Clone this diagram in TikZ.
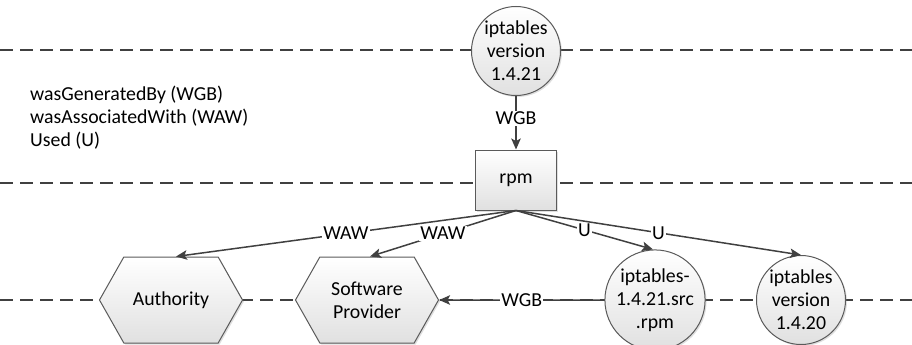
\documentclass[tikz,border=0pt]{standalone}
\usepackage{fontspec}
\setmainfont{Carlito}
\usetikzlibrary{shapes.symbols,arrows.meta,shadows}
\definecolor{edgegray}{HTML}{5A5A5A}
\definecolor{linegray}{HTML}{404040}

\begin{document}
\begin{tikzpicture}[x=1pt,y=-1pt,
  font=\fontsize{19.8}{23}\selectfont,
  lane/.style={draw=linegray, line width=1.2pt, dash pattern=on 13pt off 7pt},
  shade/.style={top color=white, bottom color=black!12,
    drop shadow={shadow xshift=1.5pt, shadow yshift=-1.5pt, opacity=0.25}},
  entity/.style={circle, draw=edgegray, line width=1pt, shade,
    minimum size=89pt, inner sep=0pt, align=center},
  activity/.style={rectangle, draw=edgegray, line width=1pt, shade,
    minimum width=81pt, minimum height=60pt},
  agent/.style={signal, signal to=west and east, signal pointer angle=121,
    draw=edgegray, line width=1pt, shade,
    minimum width=143pt, minimum height=86pt, inner sep=0pt, align=center},
  rel/.style={draw=linegray, line width=1.5pt,
    -{Stealth[length=11pt,width=9.5pt,inset=2.5pt]}},
  lbl/.style={fill=white, inner sep=1pt}
]
\useasboundingbox (0,0) rectangle (912,345);

% swimlane separators
\coordinate (laneAw) at (0,50);   \coordinate (laneAe) at (912,50);
\coordinate (laneBw) at (0,183);  \coordinate (laneBe) at (912,183);
\coordinate (laneCw) at (0,300);  \coordinate (laneCe) at (912,300);
\draw[lane] (laneAw) -- (laneAe);
\draw[lane] (laneBw) -- (laneBe);
\draw[lane] (laneCw) -- (laneCe);

% legend
\node[anchor=north west, align=left, inner sep=0pt] (legend) at (30,86)
  {wasGeneratedBy (WGB)\\wasAssociatedWith (WAW)\\Used (U)};

% entities, activity and agents
\node[entity]   (v21) at (516,51)  {iptables\\version\\1.4.21};
\node[activity] (rpm) at (516,180) {rpm};
\node[agent]    (auth) at (171,300) {Authority};
\node[agent]    (sp)   at (367,300) {Software\\Provider};
\node[entity]   (src)  at (655,300) {iptables-\\1.4.21.src\\.rpm};
\node[entity]   (v20)  at (801,300) {iptables\\version\\1.4.20};

% relations
\draw[rel] (v21) -- node[lbl, pos=0.42] {WGB} (rpm);
\draw[rel] (rpm.south) -- node[lbl] {WAW} ([xshift=5pt]auth.north);
\draw[rel] (rpm.south) -- node[lbl] {WAW} ([xshift=3pt]sp.north);
\draw[rel] (rpm.south) -- node[lbl] {U} ([xshift=-2pt]src.north);
\draw[rel] (rpm.south) -- node[lbl] {U} (v20.north);
\draw[rel] (src) -- node[lbl] {WGB} (sp);
\end{tikzpicture}
\end{document}
